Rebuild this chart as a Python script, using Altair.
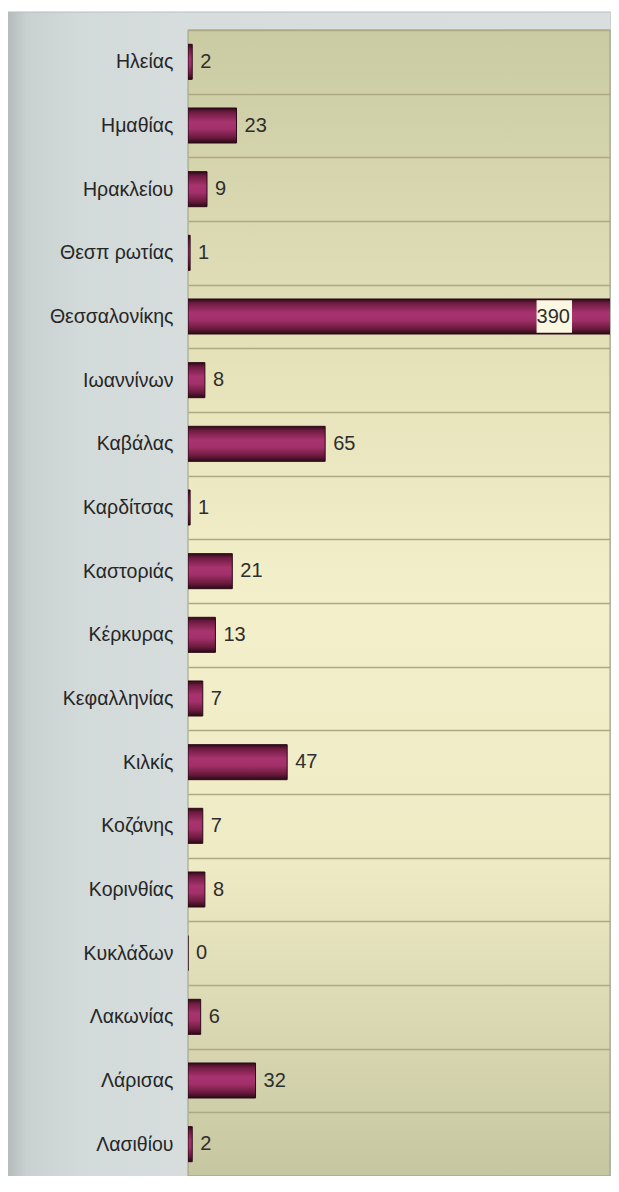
import altair as alt
import pandas as pd

cats = ["Ηλείας", "Ημαθίας", "Ηρακλείου", "Θεσπ ρωτίας", "Θεσσαλονίκης", "Ιωαννίνων",
        "Καβάλας", "Καρδίτσας", "Καστοριάς", "Κέρκυρας", "Κεφαλληνίας", "Κιλκίς",
        "Κοζάνης", "Κορινθίας", "Κυκλάδων", "Λακωνίας", "Λάρισας", "Λασιθίου"]
vals = [2, 23, 9, 1, 390, 8, 65, 1, 21, 13, 7, 47, 7, 8, 0, 6, 32, 2]

XMAX = 200
W, H = 422, 1146
FONT = "Liberation Sans"
BAND = 0.55

df = pd.DataFrame({"cat": cats, "v": vals})
one = pd.DataFrame({"k": [0]})

def grad(stops, vertical=True):
    return alt.Gradient(
        gradient="linear",
        x1=0, y1=0, x2=0 if vertical else 1, y2=1 if vertical else 0,
        stops=[alt.GradientStop(offset=o, color=c) for o, c in stops],
    )

xscale = alt.Scale(domain=[0, XMAX], nice=False, zero=True)
yscale = alt.Scale(domain=cats, paddingInner=0, paddingOuter=0)

frame = alt.Chart(one).mark_rect(
    color=grad([(0, "#b3bbbb"), (0.03, "#c8d0d0"), (0.12, "#d3dada"), (0.3, "#d7dddd"), (1, "#d9dede")], vertical=False),
    stroke="#b9bebe", strokeWidth=1,
).encode(x=alt.value(-180), x2=alt.value(W + 1), y=alt.value(-18), y2=alt.value(H + 2))

plotbg = alt.Chart(one).mark_rect(
    color=grad([(0, "#cacba3"), (0.3, "#e6e3bb"), (0.5, "#f3efca"), (0.72, "#efebc5"), (1, "#c6c7a1")]),
    stroke="#9c9c88", strokeWidth=1,
).encode(x=alt.value(0), x2=alt.value(W), y=alt.value(0), y2=alt.value(H))

bar_grad = grad([(0, "#2f0b1a"), (0.12, "#6e1b40"), (0.4, "#a8346f"), (0.6, "#a2306a"), (0.85, "#6a1a3c"), (1, "#2a0a17")])

y_enc = alt.Y("cat:N", sort=cats, scale=yscale,
              axis=alt.Axis(title=None, domain=False, ticks=False, labelPadding=15,
                            labelFont=FONT, labelFontSize=19.5, labelColor="#262626",
                            grid=True, gridColor="#aca983", gridWidth=1.3,
                            tickBand="extent", zindex=1))

bars = alt.Chart(df).mark_bar(
    color=bar_grad, stroke="#2a0a17", strokeWidth=1, clip=True,
    height=alt.RelativeBandSize(band=BAND),
).encode(
    x=alt.X("v:Q", scale=xscale, axis=None),
    y=y_enc,
)

labels = alt.Chart(df).transform_filter(f"datum.v <= {XMAX}").mark_text(
    align="left", baseline="middle", dx=8, font=FONT, fontSize=20, color="#2e2e2e"
).encode(
    x=alt.X("v:Q", scale=xscale),
    y=alt.Y("cat:N", sort=cats, scale=yscale),
    text="v:Q",
)

big = alt.Chart(df).transform_filter(f"datum.v > {XMAX}").transform_calculate(
    lx=f"{XMAX} * 0.826", lx2=f"{XMAX} * 0.910"
)
bigbox = big.mark_rect(color="#fbf8e2", height=alt.RelativeBandSize(band=BAND - 0.04)).encode(
    x=alt.X("lx:Q", scale=xscale), x2="lx2:Q",
    y=alt.Y("cat:N", sort=cats, scale=yscale),
)
bigtext = big.mark_text(align="left", baseline="middle", dx=0, font=FONT, fontSize=20, color="#2e2e2e").encode(
    x=alt.X("lx:Q", scale=xscale),
    y=alt.Y("cat:N", sort=cats, scale=yscale),
    text="v:Q",
)

chart = alt.layer(frame, plotbg, bars, labels, bigbox, bigtext).properties(
    width=W, height=H,
    autosize=alt.AutoSizeParams(type="none"),
    padding={"left": 180, "top": 22, "right": 1, "bottom": 0},
    background="white",
).configure_view(stroke=None)

chart.save("out.html", embed_options={"renderer": "svg", "actions": False})
